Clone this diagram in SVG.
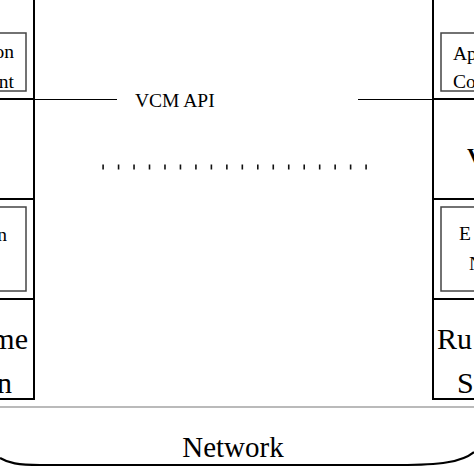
<svg xmlns="http://www.w3.org/2000/svg" width="474" height="474" viewBox="0 0 474 474">
<style>
.outer{fill:none;stroke:#000;stroke-width:2}
.inner{fill:none;stroke:#444;stroke-width:1.5}
.t{font-family:"Liberation Serif","Times New Roman",serif;fill:#000}
.s{font-size:19.5px}
.l{font-size:30px}
.b{font-size:22px;font-weight:bold}
.conn{stroke:#000;stroke-width:1.2;fill:none}
</style>
<rect width="474" height="474" fill="#fff"/>
<g id="left-node">
  <path class="outer" d="M34,-2 V399 H-2 M-2,99 H34 M-2,199 H34 M-2,299 H34"/>
  <rect class="inner" x="-10" y="33" width="36" height="58"/>
  <text class="t s" x="14" y="58" text-anchor="end">on</text>
  <text class="t s" x="14" y="88" text-anchor="end">nt</text>
  <rect class="inner" x="-10" y="207" width="36" height="84"/>
  <text class="t s" x="7" y="241" text-anchor="end">n</text>
  <text class="t l" x="28" y="349" text-anchor="end">me</text>
  <text class="t l" x="12" y="393" text-anchor="end">n</text>
</g>
<g id="right-node">
  <path class="outer" d="M433,-2 V399 H476 M433,99 H476 M433,199 H476 M433,299 H476"/>
  <rect class="inner" x="441" y="33" width="40" height="58"/>
  <text class="t s" x="453" y="60">Ap</text>
  <text class="t s" x="453" y="88">Co</text>
  <text class="t b" x="467" y="163">V</text>
  <rect class="inner" x="441" y="207" width="40" height="84"/>
  <text class="t s" x="459" y="240">E</text>
  <text class="t s" x="469" y="270">N</text>
  <text class="t l" x="437" y="349">Ru</text>
  <text class="t l" x="457" y="393">S</text>
</g>
<g id="network">
  <line x1="0" y1="407" x2="474" y2="407" stroke="#777" stroke-width="1.2"/>
  <path d="M0,458 C8,463 18,465 40,465 L400,465 C440,465 462,462 474,452" fill="none" stroke="#000" stroke-width="2.2"/>
  <text class="t" x="233" y="457" font-size="29" text-anchor="middle">Network</text>
</g>
<g id="connectors">
  <line class="conn" x1="34" y1="99.5" x2="117" y2="99.5"/>
  <line class="conn" x1="358" y1="99.5" x2="433" y2="99.5"/>
  <text class="t s" x="135" y="107">VCM API</text>
  <line x1="102.3" y1="167" x2="368" y2="167" stroke="#111" stroke-width="5" stroke-dasharray="1.6 13.87"/>
</g>
</svg>
